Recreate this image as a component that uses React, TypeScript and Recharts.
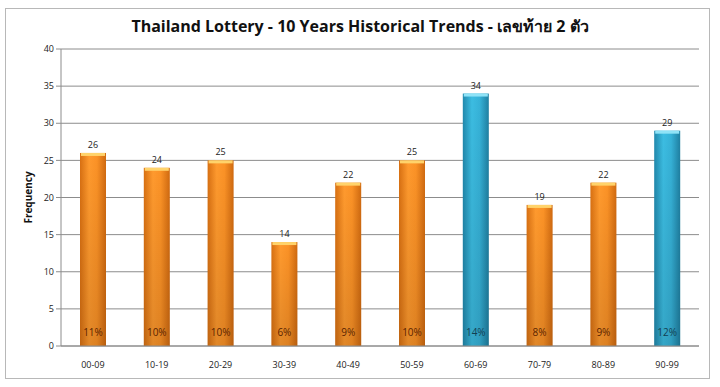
import React from 'react';
import { BarChart, Bar, XAxis, YAxis, CartesianGrid, Cell, LabelList } from 'recharts';

const ranges = ['00-09', '10-19', '20-29', '30-39', '40-49', '50-59', '60-69', '70-79', '80-89', '90-99'];
const frequency = [26, 24, 25, 14, 22, 25, 34, 19, 22, 29];
const shareLabels = ['11%', '10%', '10%', '6%', '9%', '10%', '14%', '8%', '9%', '12%'];
const hotRanges = ['60-69', '90-99'];
const yTicks = [0, 5, 10, 15, 20, 25, 30, 35, 40];

const data = ranges.map((range, i) => ({
  range,
  frequency: frequency[i],
  share: shareLabels[i],
  hot: hotRanges.includes(range),
}));

const FONT = '"Open Sans", "Noto Sans", "DejaVu Sans", sans-serif';

const GlossyBar = (props: any) => {
  const { x, y, width, height, payload } = props;
  const hot = payload && payload.hot;
  const cap = hot ? '#8fe3f7' : '#ffd36b';
  return (
    <g>
      <rect x={x} y={y} width={width} height={height} fill={hot ? 'url(#blueBar)' : 'url(#orangeBar)'} />
      <rect x={x} y={y} width={width} height={height} fill="url(#shade)" />
      <rect x={x + 1} y={y} width={width - 2} height={3} fill={cap} />
    </g>
  );
};

const shareLabel = (props: any) => {
  const { x, y, width, height, index } = props;
  const hot = data[index].hot;
  return (
    <text
      x={x + width / 2}
      y={y + height - 10}
      textAnchor="middle"
      fontSize={10}
      fontFamily={FONT}
      fill={hot ? '#123f52' : '#5a2300'}
    >
      {shareLabels[index]}
    </text>
  );
};

export default function App() {
  return (
    <div style={{ position: 'absolute', left: 0, top: 0, width: 720, height: 387, background: '#fff' }}>
      <div
        style={{
          position: 'absolute',
          left: 5,
          top: 8,
          width: 703,
          height: 369,
          border: '1px solid #b8b8b8',
        }}
      />
      <div
        style={{
          position: 'absolute',
          left: 0,
          top: 14,
          width: 720,
          textAlign: 'center',
          fontFamily: FONT,
          fontWeight: 'bold',
          fontSize: 16,
          color: '#111',
        }}
      >
        Thailand Lottery - 10 Years Historical Trends - เลขท้าย 2 ตัว
      </div>
      <div style={{ position: 'absolute', left: 0, top: 0 }}>
        <BarChart
          width={720}
          height={387}
          data={data}
          margin={{ top: 49, right: 21, left: 0, bottom: 11 }}
          barSize={26}
        >
          <defs>
            <linearGradient id="orangeBar" x1="0" y1="0" x2="1" y2="0">
              <stop offset="0%" stopColor="#d87012" />
              <stop offset="35%" stopColor="#ff9a2e" />
              <stop offset="65%" stopColor="#fb9226" />
              <stop offset="100%" stopColor="#d06a10" />
            </linearGradient>
            <linearGradient id="blueBar" x1="0" y1="0" x2="1" y2="0">
              <stop offset="0%" stopColor="#2189ad" />
              <stop offset="35%" stopColor="#3cbde2" />
              <stop offset="65%" stopColor="#36b2d8" />
              <stop offset="100%" stopColor="#1f80a2" />
            </linearGradient>
            <linearGradient id="shade" x1="0" y1="0" x2="0" y2="1">
              <stop offset="0%" stopColor="#000" stopOpacity={0} />
              <stop offset="100%" stopColor="#000" stopOpacity={0.12} />
            </linearGradient>
          </defs>
          <CartesianGrid vertical={false} stroke="#8c8c8c" strokeWidth={1} />
          <XAxis
            dataKey="range"
            height={30}
            tickLine={false}
            axisLine={{ stroke: '#8c8c8c' }}
            tick={{ fontSize: 9, fill: '#222', fontFamily: FONT }}
            tickMargin={10}
          />
          <YAxis
            domain={[0, 40]}
            ticks={yTicks}
            width={61}
            axisLine={{ stroke: '#8c8c8c' }}
            tickLine={{ stroke: '#8c8c8c' }}
            tickSize={5}
            tick={{ fontSize: 9, fill: '#222', fontFamily: FONT }}
            label={{
              value: 'Frequency',
              angle: -90,
              position: 'insideLeft',
              offset: 28,
              style: { fontSize: 10, fontWeight: 'bold', fill: '#111', fontFamily: FONT, textAnchor: 'middle' },
            }}
          />
          <Bar dataKey="frequency" shape={<GlossyBar />} isAnimationActive={false}>
            {data.map((d) => (
              <Cell key={d.range} />
            ))}
            <LabelList dataKey="frequency" position="top" offset={5} style={{ fontSize: 9, fill: '#222', fontFamily: FONT }} />
            <LabelList dataKey="share" content={shareLabel} />
          </Bar>
        </BarChart>
      </div>
    </div>
  );
}
